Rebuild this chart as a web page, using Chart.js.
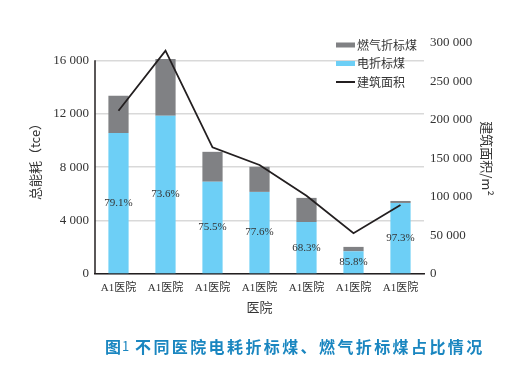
<!DOCTYPE html>
<html>
<head>
<meta charset="utf-8">
<script src="https://cdn.jsdelivr.net/npm/chart.js@4/dist/chart.umd.min.js"></script>
<style>
  body { margin: 0; background: #fff; }
  #wrap { width: 507px; height: 375px; }
</style>
</head>
<body>
<div id="wrap"><canvas id="energyChart" width="507" height="375"></canvas></div>
<script>
// hospitals (all labelled the same in the source figure)
const hospitals = ['A1医院', 'A1医院', 'A1医院', 'A1医院', 'A1医院', 'A1医院', 'A1医院'];
// electricity converted to standard coal (tce)
const elecCoal = [10560, 11850, 6910, 6150, 3890, 1700, 5320];
// gas converted to standard coal (tce)
const gasCoal = [2790, 4250, 2240, 1880, 1810, 330, 150];
// floor area (m2)
const floorArea = [212000, 290000, 164500, 141600, 101700, 52900, 89600];
// share of electricity in total
const elecShare = ['79.1%', '73.6%', '75.5%', '77.6%', '68.3%', '85.8%', '97.3%'];
const leftTicks = [0, 4000, 8000, 12000, 16000];

const serif = "'Liberation Serif', 'Noto Sans CJK SC', serif";
const cjk = "'Noto Sans CJK SC', sans-serif";

function spaced(v) {
    return String(v).replace(/\B(?=(\d{3})+(?!\d))/g, ' ');
}

// percentage written in the middle of each blue segment
const shareLabels = {
    id: 'shareLabels',
    afterDatasetsDraw(chart) {
        const ctx = chart.ctx;
        const bars = chart.getDatasetMeta(0).data;
        ctx.save();
        ctx.font = '11px ' + serif;
        ctx.fillStyle = '#333';
        ctx.textAlign = 'center';
        ctx.textBaseline = 'middle';
        bars.forEach((bar, i) => {
            ctx.fillText(elecShare[i], bar.x, (bar.y + bar.base) / 2);
        });
        ctx.restore();
    }
};

// left axis line only runs up to the top tick
const leftAxisLine = {
    id: 'leftAxisLine',
    afterDatasetsDraw(chart) {
        const y = chart.scales.y;
        const ctx = chart.ctx;
        ctx.save();
        ctx.strokeStyle = '#231f20';
        ctx.lineWidth = 1.5;
        ctx.beginPath();
        ctx.moveTo(y.right, y.getPixelForValue(leftTicks[leftTicks.length - 1]));
        ctx.lineTo(y.right, y.getPixelForValue(0));
        ctx.stroke();
        ctx.restore();
    }
};

// legend sits inside the plot, top right
const cornerLegend = {
    id: 'cornerLegend',
    afterDraw(chart) {
        const ctx = chart.ctx;
        const rows = [
            { text: '燃气折标煤', color: '#808184', h: 5 },
            { text: '电折标煤', color: '#6dcff6', h: 5 },
            { text: '建筑面积', color: '#231f20', h: 2 }
        ];
        ctx.save();
        ctx.font = '12px ' + cjk;
        ctx.textBaseline = 'middle';
        rows.forEach((r, i) => {
            const y = 45 + i * 18.5;
            ctx.fillStyle = r.color;
            ctx.fillRect(336, y - r.h / 2, 19, r.h);
            ctx.fillStyle = '#333';
            ctx.fillText(r.text, 357, y);
        });
        ctx.restore();
    }
};

// figure caption under the chart
const caption = {
    id: 'caption',
    afterDraw(chart) {
        const ctx = chart.ctx;
        ctx.save();
        ctx.fillStyle = '#1a86c0';
        ctx.textBaseline = 'middle';
        ctx.font = 'bold 16px ' + cjk;
        ctx.fillText('图', 105, 347);
        ctx.font = '13px ' + cjk;
        ctx.fillText('1', 122, 346);
        ctx.font = 'bold 16px ' + cjk;
        ctx.letterSpacing = '2.4px';
        ctx.fillText('不同医院电耗折标煤、燃气折标煤占比情况', 135, 347);
        ctx.restore();
    }
};

new Chart(document.getElementById('energyChart'), {
    data: {
        labels: hospitals,
        datasets: [
            {
                type: 'bar',
                label: '电折标煤',
                data: elecCoal,
                backgroundColor: '#6dcff6',
                stack: 'coal',
                order: 1,
                categoryPercentage: 1,
                barPercentage: 0.43
            },
            {
                type: 'bar',
                label: '燃气折标煤',
                data: gasCoal,
                backgroundColor: '#808184',
                stack: 'coal',
                order: 1,
                categoryPercentage: 1,
                barPercentage: 0.43
            },
            {
                type: 'line',
                label: '建筑面积',
                data: floorArea,
                yAxisID: 'y1',
                borderColor: '#231f20',
                borderWidth: 1.8,
                pointRadius: 0,
                tension: 0,
                order: 0
            }
        ]
    },
    options: {
        responsive: false,
        animation: false,
        layout: { padding: { top: 43, left: 0, right: 0, bottom: 0 } },
        plugins: {
            legend: { display: false },
            title: { display: false },
            tooltip: { enabled: false }
        },
        scales: {
            x: {
                stacked: true,
                grid: { display: false, drawTicks: false },
                border: { display: true, color: '#231f20', width: 1.5 },
                ticks: { color: '#333', font: { family: serif, size: 11 }, padding: 8, maxRotation: 0, autoSkip: false },
                title: { display: true, text: '医院', color: '#333', font: { family: cjk, size: 13 }, padding: { top: 0, bottom: 60 } },
                afterFit(scale) { scale.height = 101; }
            },
            y: {
                stacked: true,
                position: 'left',
                min: 0,
                max: 17300,
                afterBuildTicks(scale) { scale.ticks = leftTicks.map(v => ({ value: v })); },
                grid: { color: '#d9d9d9', lineWidth: 1.5, drawTicks: false },
                border: { display: false },
                ticks: { color: '#333', font: { family: serif, size: 13 }, padding: 6, callback: v => spaced(v) },
                title: { display: true, text: '总能耗（tce）', color: '#333', font: { family: cjk, size: 13 }, padding: { top: 27, bottom: 0 } },
                afterFit(scale) { scale.width = 95; }
            },
            y1: {
                position: 'right',
                min: 0,
                max: 300000,
                grid: { display: false, drawTicks: false },
                border: { display: false },
                ticks: { stepSize: 50000, color: '#333', font: { family: serif, size: 13 }, padding: 6, callback: v => spaced(v) },
                title: { display: true, text: '建筑面积/m²', color: '#333', font: { family: cjk, size: 13 }, padding: { top: 12, bottom: 0 } },
                afterFit(scale) { scale.width = 83; }
            }
        }
    },
    plugins: [shareLabels, leftAxisLine, cornerLegend, caption]
});
</script>
</body>
</html>
